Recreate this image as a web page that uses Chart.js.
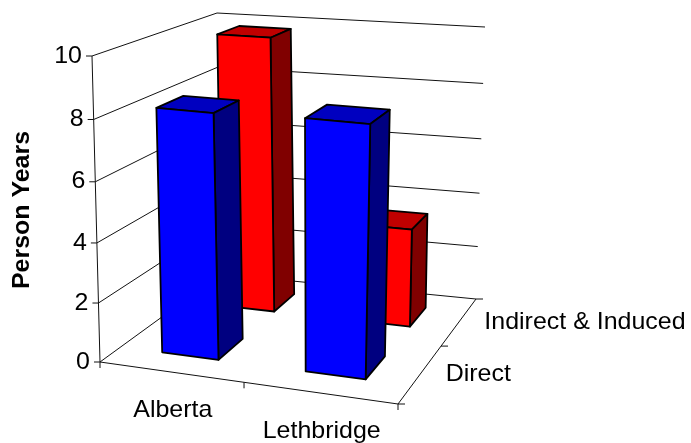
<!DOCTYPE html>
<html>
<head>
<meta charset="utf-8">
<title>Person Years</title>
<script src="https://cdn.jsdelivr.net/npm/chart.js@4"></script>
<style>
  html, body { margin: 0; background: #fff; }
  canvas { display: block; }
</style>
</head>
<body>
<canvas id="chart" width="691" height="443"></canvas>
<script>
const regions = ['Alberta', 'Lethbridge'];
const effects = ['Direct', 'Indirect & Induced'];
const directYears = [8.2, 8.3];
const indirectYears = [9.8, 3.5];
const axisTitle = 'Person Years';

// outline of the 3D box the bars stand in, floor and ceiling
const floorBox = { fl: [100, 362], fr: [398, 404], bl: [221, 274], br: [476, 299] };
const ceilBox = { fl: [92, 56], fr: [410, 84], bl: [217, 13], br: [485, 27] };
const heightFalloff = 0.955;
const widthFalloff = 1.055;

const FONT = '"Liberation Sans", Arial, sans-serif';
const TEXT_STRETCH = 1.04;

// perspective map of the unit square onto a quad
function quadMap(q) {
  const ax = q.fr[0] - q.br[0], ay = q.fr[1] - q.br[1];
  const bx = q.bl[0] - q.br[0], by = q.bl[1] - q.br[1];
  const cx = q.fl[0] - q.br[0], cy = q.fl[1] - q.br[1];
  const det = ax * by - bx * ay;
  const wr = (cx * by - bx * cy) / det;
  const wb = (ax * cy - cx * ay) / det;
  return (u, t) => {
    const w = 1 + (wr - 1) * u + (wb - 1) * t;
    return [
      (q.fl[0] + (wr * q.fr[0] - q.fl[0]) * u + (wb * q.bl[0] - q.fl[0]) * t) / w,
      (q.fl[1] + (wr * q.fr[1] - q.fl[1]) * u + (wb * q.bl[1] - q.fl[1]) * t) / w
    ];
  };
}

const floorAt = quadMap(floorBox);
const ceilAt = quadMap(ceilBox);

function falloff(x, f) {
  return x * f / (1 + (f - 1) * x);
}

function project(u, v, t) {
  const s = falloff(u, widthFalloff);
  const a = floorAt(s, t);
  const b = ceilAt(s, t);
  const k = falloff(v, heightFalloff);
  return [a[0] + (b[0] - a[0]) * k, a[1] + (b[1] - a[1]) * k];
}

function line(ctx, a, b) {
  ctx.beginPath();
  ctx.moveTo(a[0], a[1]);
  ctx.lineTo(b[0], b[1]);
  ctx.stroke();
}

function face(ctx, pts, fill) {
  ctx.beginPath();
  pts.forEach((p, i) => (i ? ctx.lineTo(p[0], p[1]) : ctx.moveTo(p[0], p[1])));
  ctx.closePath();
  ctx.fillStyle = fill;
  ctx.fill();
  ctx.stroke();
}

function text(ctx, str, x, y, align) {
  ctx.save();
  ctx.translate(x, y);
  ctx.scale(TEXT_STRETCH, 1);
  ctx.textAlign = align;
  ctx.textBaseline = 'middle';
  ctx.fillStyle = '#000';
  ctx.fillText(str, 0, 0);
  ctx.restore();
}

const box3d = {
  id: 'box3d',
  beforeDatasetsDraw(chart) {
    const { ctx, scales } = chart;
    const xs = scales.x, ys = scales.y, zs = scales.z;
    const toU = px => (px - xs.left) / xs.width;
    const toV = py => (ys.bottom - py) / ys.height;
    const toT = px => (px - zs.left) / zs.width;

    ctx.save();
    ctx.lineWidth = 1;
    ctx.strokeStyle = '#111';

    // walls: one line per y tick along the left and back sides
    ys.ticks.forEach(tick => {
      const v = toV(ys.getPixelForValue(tick.value));
      const front = project(0, v, 0);
      line(ctx, front, project(0, v, 1));
      line(ctx, project(0, v, 1), project(1, v, 1));
      line(ctx, front, [front[0] - 6, front[1]]);
    });
    line(ctx, project(0, 0, 0), project(0, 1, 0));
    line(ctx, project(0, 0, 0), project(1, 0, 0));
    line(ctx, project(1, 0, 0), project(1, 0, 1));

    // floor tick marks
    for (let i = 0; i <= regions.length; i++) {
      const p = project(i / regions.length, 0, 0);
      line(ctx, p, [p[0], p[1] + 6]);
    }
    for (let j = 0; j <= effects.length; j++) {
      const p = project(1, 0, j / effects.length);
      line(ctx, p, [p[0] + 7, p[1]]);
    }

    // bars, back row first
    ctx.lineWidth = 1.8;
    ctx.strokeStyle = '#000';
    ctx.lineJoin = 'round';
    for (let d = chart.data.datasets.length - 1; d >= 0; d--) {
      const ds = chart.data.datasets[d];
      const tc = toT(zs.getPixelForValue(d));
      const half = ds.barDepth / 2;
      chart.getDatasetMeta(d).data.forEach(bar => {
        const u0 = toU(bar.x - bar.width / 2);
        const u1 = toU(bar.x + bar.width / 2);
        const v = toV(bar.y);
        const t0 = tc - half, t1 = tc + half;
        face(ctx, [project(u0, v, t0), project(u1, v, t0), project(u1, v, t1), project(u0, v, t1)], ds.topColor);
        face(ctx, [project(u1, 0, t0), project(u1, 0, t1), project(u1, v, t1), project(u1, v, t0)], ds.sideColor);
        face(ctx, [project(u0, 0, t0), project(u1, 0, t0), project(u1, v, t0), project(u0, v, t0)], ds.backgroundColor);
      });
    }

    // labels
    ctx.font = '24px ' + FONT;
    ys.ticks.forEach(tick => {
      const p = project(0, toV(ys.getPixelForValue(tick.value)), 0);
      text(ctx, tick.label, p[0] - 10, p[1], 'right');
    });
    regions.forEach((name, i) => {
      const p = project(toU(xs.getPixelForValue(i)), 0, 0);
      text(ctx, name, p[0] + 2, p[1] + 38, 'center');
    });
    effects.forEach((name, j) => {
      const p = project(1, 0, toT(zs.getPixelForValue(j)));
      text(ctx, name, p[0] + 25, p[1] + 1, 'left');
    });

    ctx.translate(22, 210);
    ctx.rotate(-Math.PI / 2);
    ctx.font = 'bold 24px ' + FONT;
    text(ctx, axisTitle, 0, 0, 'center');
    ctx.restore();

    return false; // the faces above replace the flat bars
  }
};

new Chart(document.getElementById('chart'), {
  type: 'bar',
  data: {
    labels: regions,
    datasets: [
      { label: effects[0], data: directYears, backgroundColor: '#0000ff', topColor: '#0000c0', sideColor: '#000080', barDepth: 0.205, grouped: false, barPercentage: 0.4, categoryPercentage: 1 },
      { label: effects[1], data: indirectYears, backgroundColor: '#ff0000', topColor: '#c00000', sideColor: '#800000', barDepth: 0.205, grouped: false, barPercentage: 0.4, categoryPercentage: 1 }
    ]
  },
  options: {
    responsive: false,
    animation: false,
    plugins: { legend: { display: false }, tooltip: { enabled: false } },
    scales: {
      x: { display: false },
      y: { display: false, min: 0, max: 10, ticks: { stepSize: 2 } },
      z: { type: 'category', axis: 'x', display: false, offset: true, labels: effects }
    }
  },
  plugins: [box3d]
});
</script>
</body>
</html>
